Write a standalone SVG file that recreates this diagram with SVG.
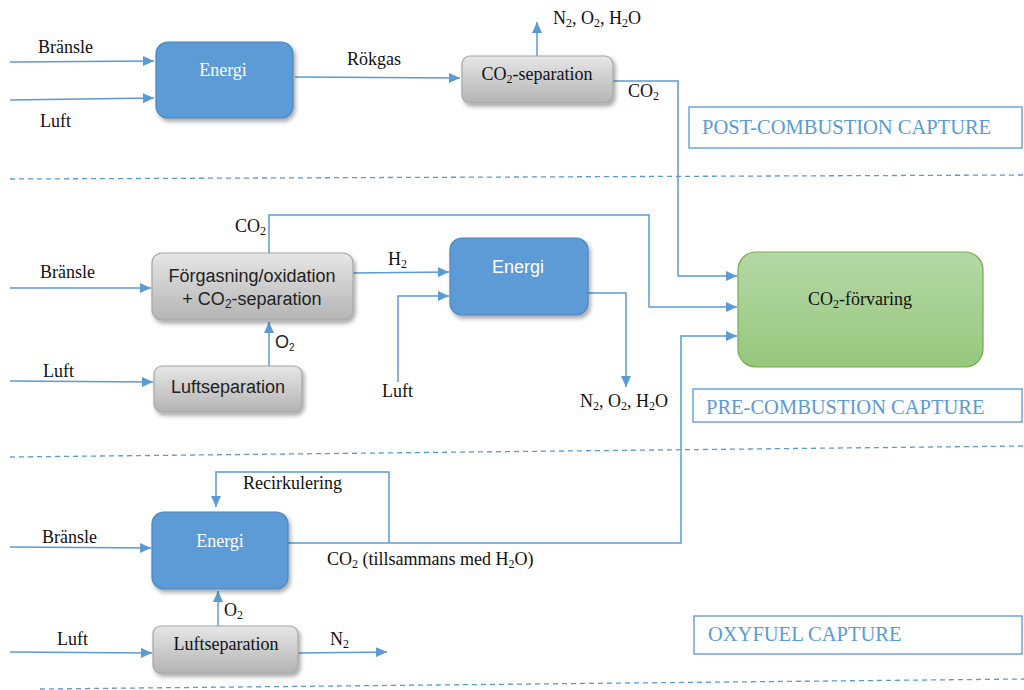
<svg xmlns="http://www.w3.org/2000/svg" width="1024" height="690" viewBox="0 0 1024 690">
<style>
.ln{fill:none;stroke:#5b9bd5;stroke-width:1.5}
.arr{marker-end:url(#ah)}
.dash{fill:none;stroke:#5b9bd5;stroke-width:1.3;stroke-dasharray:5,4}
.lbl{font-family:"Liberation Serif","Times New Roman",serif;font-size:18px;fill:#111}
.sans{font-family:"Liberation Sans",Arial,sans-serif;font-size:18px;fill:#222}
.wt{fill:#fff}
.sec{font-family:"Liberation Serif","Times New Roman",serif;font-size:20.5px;fill:#5b9bd5}
.secbox{fill:#fff;stroke:#6fa5db;stroke-width:1.5}
.blue{fill:#5b9bd5;stroke:#4a86bf;stroke-width:1.2}
.gray{fill:url(#gg);stroke:#a6a6a6;stroke-width:1.2}
.green{fill:url(#gn);stroke:#70ad47;stroke-width:1.2}
</style>
<defs>
<marker id="ah" markerUnits="userSpaceOnUse" markerWidth="12" markerHeight="10" refX="11" refY="5" orient="auto">
<path d="M0,0 L11,5 L0,10 z" fill="#5b9bd5"/>
</marker>
<filter id="sh" x="-10%" y="-10%" width="125%" height="135%">
<feDropShadow dx="2" dy="3" stdDeviation="2" flood-color="#000" flood-opacity="0.35"/>
</filter>
<linearGradient id="gg" x1="0" y1="0" x2="0" y2="1">
<stop offset="0" stop-color="#e6e6e6"/>
<stop offset="1" stop-color="#b4b4b4"/>
</linearGradient>
<linearGradient id="gn" x1="0" y1="0" x2="0" y2="1">
<stop offset="0" stop-color="#b5d8a6"/>
<stop offset="1" stop-color="#97c87d"/>
</linearGradient>
</defs>
<rect width="1024" height="690" fill="#fff"/>

<g id="separators">
<path class="dash" d="M10,179 L1024,175"/>
<path class="dash" d="M10,457 L1024,446"/>
<path class="dash" d="M40,689 L1024,679"/>
</g>

<g id="connectors">
<path class="ln arr" d="M10,62 L154,61"/>
<path class="ln arr" d="M10,100 L154,98"/>
<path class="ln arr" d="M295,77 L460,78"/>
<path class="ln arr" d="M537,56 L537,22"/>
<path class="ln arr" d="M613,81 L678,81 L678,276 L737,276"/>
<path class="ln arr" d="M269,253 L269,215 L649,215 L649,307 L737,307"/>
<path class="ln arr" d="M10,288 L151,288"/>
<path class="ln arr" d="M10,381 L153,382"/>
<path class="ln arr" d="M269,366 L269,322"/>
<path class="ln arr" d="M353,273 L449,272"/>
<path class="ln arr" d="M398,382 L398,296 L449,296"/>
<path class="ln arr" d="M588,293 L626,293 L626,387"/>
<path class="ln arr" d="M288,543 L681,543 L681,336 L737,336"/>
<path class="ln arr" d="M389,543 L389,472 L216,472 L216,507"/>
<path class="ln arr" d="M10,547 L151,548"/>
<path class="ln arr" d="M218,626 L218,591"/>
<path class="ln arr" d="M10,652 L152,653"/>
<path class="ln arr" d="M298,653 L387,652"/>
</g>

<g id="labels">
<text class="lbl" x="38" y="53">Bränsle</text>
<text class="lbl" x="40" y="127">Luft</text>
<text class="lbl" x="347" y="65">Rökgas</text>
<text class="lbl" x="553" y="24">N<tspan font-size="12" dy="3">2</tspan><tspan dy="-3">, O</tspan><tspan font-size="12" dy="3">2</tspan><tspan dy="-3">, H</tspan><tspan font-size="12" dy="3">2</tspan><tspan dy="-3">O</tspan></text>
<text class="lbl" x="628" y="97">CO<tspan font-size="12" dy="3">2</tspan></text>
<text class="lbl" x="235" y="232">CO<tspan font-size="12" dy="3">2</tspan></text>
<text class="lbl" x="40" y="278">Bränsle</text>
<text class="lbl" x="43" y="377">Luft</text>
<text class="sans" x="275" y="348" font-size="15">O<tspan font-size="10" dy="3">2</tspan></text>
<text class="lbl" x="388" y="265">H<tspan font-size="12" dy="3">2</tspan></text>
<text class="lbl" x="382" y="397">Luft</text>
<text class="lbl" x="580" y="407">N<tspan font-size="12" dy="3">2</tspan><tspan dy="-3">, O</tspan><tspan font-size="12" dy="3">2</tspan><tspan dy="-3">, H</tspan><tspan font-size="12" dy="3">2</tspan><tspan dy="-3">O</tspan></text>
<text class="lbl" x="243" y="489">Recirkulering</text>
<text class="lbl" x="42" y="543">Bränsle</text>
<text class="lbl" x="327" y="565">CO<tspan font-size="12" dy="3">2</tspan><tspan dy="-3"> (tillsammans med H</tspan><tspan font-size="12" dy="3">2</tspan><tspan dy="-3">O)</tspan></text>
<text class="lbl" x="224" y="616">O<tspan font-size="12" dy="3">2</tspan></text>
<text class="lbl" x="57" y="645">Luft</text>
<text class="lbl" x="330" y="645">N<tspan font-size="12" dy="3">2</tspan></text>
</g>

<g id="energi1">
<rect class="blue" x="156" y="42" width="137" height="76" rx="12" filter="url(#sh)"/>
<text class="lbl wt" x="223" y="76" text-anchor="middle" font-size="19">Energi</text>
</g>

<g id="co2sep">
<rect class="gray" x="462" y="56" width="151" height="47" rx="8" filter="url(#sh)"/>
<text class="lbl" x="537" y="80" text-anchor="middle">CO<tspan font-size="12" dy="3">2</tspan><tspan dy="-3">-separation</tspan></text>
</g>

<g id="post">
<rect class="secbox" x="689" y="107" width="333" height="41"/>
<text class="sec" x="702" y="134">POST-COMBUSTION CAPTURE</text>
</g>

<g id="forgasning">
<rect class="gray" x="152" y="253" width="201" height="67" rx="10" filter="url(#sh)"/>
<text class="sans" x="252" y="282" text-anchor="middle">Förgasning/oxidation</text>
<text class="sans" x="252" y="305" text-anchor="middle">+ CO<tspan font-size="12" dy="3">2</tspan><tspan dy="-3">-separation</tspan></text>
</g>

<g id="luftsep1">
<rect class="gray" x="154" y="366" width="148" height="46" rx="8" filter="url(#sh)"/>
<text class="sans" x="228" y="393" text-anchor="middle">Luftseparation</text>
</g>

<g id="energi2">
<rect class="blue" x="450" y="238" width="138" height="77" rx="12" filter="url(#sh)"/>
<text class="sans wt" x="518" y="273" text-anchor="middle">Energi</text>
</g>

<g id="forvaring">
<rect class="green" x="738" y="252" width="245" height="115" rx="18"/>
<text class="lbl" x="860" y="305" text-anchor="middle">CO<tspan font-size="12" dy="3">2</tspan><tspan dy="-3">-förvaring</tspan></text>
</g>

<g id="pre">
<rect class="secbox" x="693" y="389" width="329" height="33"/>
<text class="sec" x="706" y="414">PRE-COMBUSTION CAPTURE</text>
</g>

<g id="energi3">
<rect class="blue" x="152" y="512" width="136" height="77" rx="12" filter="url(#sh)"/>
<text class="lbl wt" x="220" y="547" text-anchor="middle" font-size="19">Energi</text>
</g>

<g id="luftsep2">
<rect class="gray" x="153" y="626" width="145" height="47" rx="8" filter="url(#sh)"/>
<text class="lbl" x="226" y="650" text-anchor="middle">Luftseparation</text>
</g>

<g id="oxyfuel">
<rect class="secbox" x="694" y="616" width="328" height="38"/>
<text class="sec" x="708" y="641">OXYFUEL CAPTURE</text>
</g>
</svg>
